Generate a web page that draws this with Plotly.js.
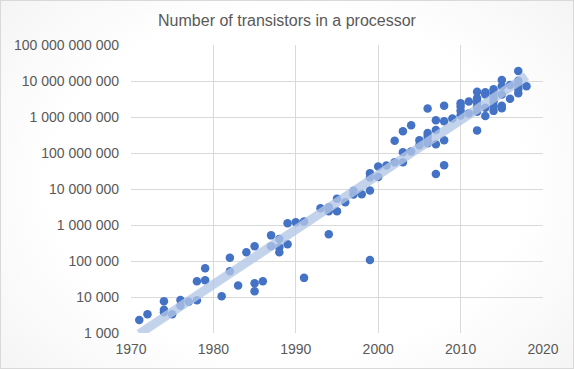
<!DOCTYPE html>
<html>
<head>
<meta charset="utf-8">
<script src="https://cdn.plot.ly/plotly-3.0.1.min.js"></script>
<style>
  html, body { margin: 0; padding: 0; }
  #wrap { position: relative; width: 574px; height: 369px;
    background: radial-gradient(ellipse 75% 85% at 50% 50%, #ffffff 55%, #f1f1f1 100%); }
  #chart { position: absolute; left: 0; top: 0; width: 574px; height: 369px; }
  #frame { position: absolute; left: 0; top: 0; width: 574px; height: 369px;
    box-sizing: border-box; border: 1px solid #d9d9d9; pointer-events: none; }
</style>
</head>
<body>
<div id="wrap"><div id="chart"></div><div id="frame"></div></div>
<script>
// Year of introduction of each processor
const years = [
  1971, 1972, 1974, 1974, 1974, 1975, 1976, 1976, 1977, 1978, 1978, 1979, 1979,
  1981, 1982, 1982, 1983, 1984, 1985, 1985, 1985, 1986, 1987, 1987,
  1988, 1988, 1988, 1989, 1989, 1990, 1991, 1991, 1993, 1994, 1994, 1994,
  1995, 1995, 1996, 1997, 1997, 1998, 1999, 1999, 1999, 1999, 2000, 2000,
  2001, 2002, 2002, 2003, 2003, 2003, 2004, 2004, 2005, 2005,
  2006, 2006, 2006, 2006, 2006, 2007, 2007, 2007, 2007,
  2008, 2008, 2008, 2008, 2009, 2010, 2010, 2010, 2010, 2011, 2011,
  2012, 2012, 2012, 2012, 2012, 2012, 2013, 2013, 2013, 2013,
  2014, 2014, 2014, 2014, 2014, 2014, 2015, 2015, 2015, 2015, 2015,
  2016, 2016, 2017, 2017, 2017, 2017, 2017, 2018
];
// Number of transistors
const transistors = [
  2300, 3300, 7600, 4400, 3800, 3300, 8300, 5700, 7400, 8100, 27500, 29000, 63000,
  10500, 123000, 52000, 21000, 174000, 257000, 24000, 14400, 27500, 515000, 257000,
  240000, 174000, 410000, 290000, 1120000, 1190000, 1250000, 34000, 2900000, 2400000, 550000, 3100000,
  5400000, 2400000, 4300000, 8900000, 7000000, 7100000, 27600000, 21000000, 9100000, 107000, 42000000, 21500000,
  45000000, 55000000, 220000000, 55000000, 105000000, 400000000, 110000000, 590000000, 225000000, 165000000,
  360000000, 295000000, 230000000, 186000000, 1730000000, 815000000, 435000000, 175000000, 26000000,
  2040000000, 760000000, 225000000, 46000000, 910000000, 2400000000, 1950000000, 1480000000, 1100000000, 2700000000, 1260000000,
  5000000000, 3300000000, 2600000000, 1950000000, 1410000000, 425000000, 4900000000, 4200000000, 1800000000, 1070000000,
  5900000000, 4800000000, 3650000000, 2750000000, 2000000000, 1480000000, 10700000000, 7200000000, 4200000000, 2050000000, 1750000000,
  7700000000, 3200000000, 19000000000, 10200000000, 8100000000, 6000000000, 4600000000, 7200000000
];
const xTickVals = [1970, 1980, 1990, 2000, 2010, 2020];
const yTickVals = [1e3, 1e4, 1e5, 1e6, 1e7, 1e8, 1e9, 1e10, 1e11];
const yTickText = ['1 000', '10 000', '100 000', '1 000 000', '10 000 000',
  '100 000 000', '1 000 000 000', '10 000 000 000', '100 000 000 000'];

// Exponential trendline (least squares on log10 of the values)
const n = years.length;
const ly = transistors.map(v => Math.log10(v));
const mx = years.reduce((a, b) => a + b, 0) / n;
const my = ly.reduce((a, b) => a + b, 0) / n;
let sxy = 0, sxx = 0;
for (let i = 0; i < n; i++) { sxy += (years[i] - mx) * (ly[i] - my); sxx += (years[i] - mx) ** 2; }
const slope = sxy / sxx, icpt = my - slope * mx;
const x0 = Math.min(...years), x1 = Math.max(...years);
const trendX = [x0, x1];
const trendY = trendX.map(x => Math.pow(10, icpt + slope * x));

const FONT = '"Liberation Sans", Arial, sans-serif';
const data = [
  { type: 'scatter', mode: 'markers', x: years, y: transistors,
    marker: { color: '#4472C4', size: 8.5 }, hoverinfo: 'x+y' },
  { type: 'scatter', mode: 'lines', x: trendX, y: trendY,
    line: { color: 'rgba(180,199,231,0.78)', width: 9 }, hoverinfo: 'skip' }
];
const layout = {
  width: 574, height: 369,
  margin: { l: 131, r: 31, t: 45, b: 36, pad: 0 },
  paper_bgcolor: 'rgba(0,0,0,0)', plot_bgcolor: 'rgba(0,0,0,0)',
  showlegend: false,
  font: { family: FONT, size: 14, color: '#595959' },
  title: { text: 'Number of transistors in a processor', x: 0.5, xref: 'container',
    xanchor: 'center', y: 0.945, yref: 'container', yanchor: 'middle',
    font: { family: FONT, size: 16, color: '#595959' } },
  xaxis: { range: [1970, 2020], tickvals: xTickVals, ticktext: xTickVals.map(String),
    showgrid: true, gridcolor: '#d9d9d9', gridwidth: 1, zeroline: false, showline: false,
    ticks: '', ticklabelstandoff: 6, tickfont: { family: FONT, size: 14, color: '#595959' } },
  yaxis: { type: 'log', range: [3, 11], tickvals: yTickVals, ticktext: yTickText,
    showgrid: true, gridcolor: '#d9d9d9', gridwidth: 1, zeroline: false, showline: false,
    ticks: '', ticklabelstandoff: 11, tickfont: { family: FONT, size: 14, color: '#595959' } }
};
Plotly.newPlot('chart', data, layout, { displayModeBar: false, staticPlot: true });
</script>
</body>
</html>
